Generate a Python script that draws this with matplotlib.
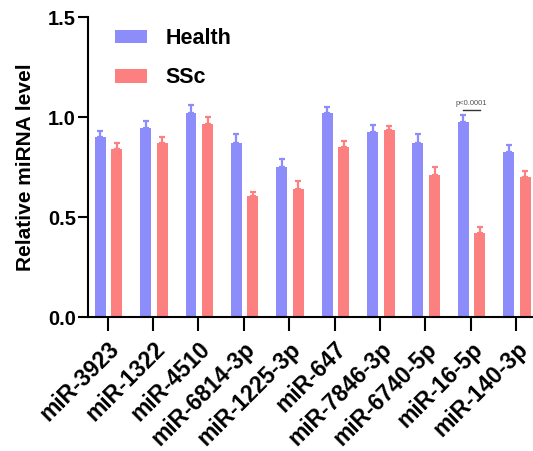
import matplotlib.pyplot as plt
import numpy as np

plt.rcParams["font.family"] = ["Liberation Sans", "DejaVu Sans"]
plt.rcParams["font.weight"] = "bold"

mirnas = ["miR-3923", "miR-1322", "miR-4510", "miR-6814-3p", "miR-1225-3p",
          "miR-647", "miR-7846-3p", "miR-6740-5p", "miR-16-5p", "miR-140-3p"]
health = [0.898, 0.945, 1.021, 0.870, 0.749, 1.018, 0.925, 0.870, 0.975, 0.824]
health_err = [0.032, 0.035, 0.040, 0.043, 0.042, 0.030, 0.037, 0.043, 0.037, 0.037]
ssc = [0.838, 0.870, 0.965, 0.604, 0.639, 0.850, 0.935, 0.712, 0.418, 0.699]
ssc_err = [0.032, 0.028, 0.035, 0.022, 0.043, 0.028, 0.020, 0.037, 0.030, 0.030]

health_color = "#8c8cfb"
ssc_color = "#fc8080"

fig = plt.figure(figsize=(5.33, 4.51), dpi=100)
ax = fig.add_axes([0.1657, 0.2971, 0.8343, 0.6652])

x = np.arange(len(mirnas))
w = 0.24
ax.bar(x - 0.165, health, w, color=health_color, label="Health",
       yerr=[np.zeros(len(health)), health_err],
       error_kw=dict(ecolor=health_color, elinewidth=1.6, capsize=2.5, capthick=1.6))
ax.bar(x + 0.2, ssc, w, color=ssc_color, label="SSc",
       yerr=[np.zeros(len(ssc)), ssc_err],
       error_kw=dict(ecolor=ssc_color, elinewidth=1.6, capsize=2.5, capthick=1.6))

ax.set_xlim(-0.427, 9.37)
ax.set_ylim(0, 1.5)
ax.set_yticks([0, 0.5, 1.0, 1.5])
ax.set_yticklabels(["0.0", "0.5", "1.0", "1.5"], fontsize=14.5, fontweight="bold")
ax.set_xticks(x)
ax.set_xticklabels(mirnas, rotation=45, ha="right", va="top",
                   rotation_mode="anchor", fontsize=16.5, fontweight="bold")
ax.set_ylabel("Relative miRNA level", fontsize=15, fontweight="bold", labelpad=9)

for side in ["top", "right"]:
    ax.spines[side].set_visible(False)
for side in ["left", "bottom"]:
    ax.spines[side].set_linewidth(1.5)
ax.tick_params(axis="x", length=10, width=1.5, pad=5)
ax.tick_params(axis="y", length=7, width=1.5, pad=2)

# significance mark on miR-16-5p
i = mirnas.index("miR-16-5p")
ax.plot([i - 0.165, i + 0.2], [1.037, 1.037], color="#333333", lw=1)
ax.text(i + 0.0175, 1.05, "p<0.0001", ha="center", va="bottom",
        fontsize=5.5, fontweight="normal", color="#555555")

ax.legend(loc="upper left", bbox_to_anchor=(115 / 533, 1 - 28 / 451),
          bbox_transform=fig.transFigure, frameon=False, fontsize=15.5,
          handlelength=1.5, handleheight=0.6, handletextpad=0.85,
          labelspacing=0.85, borderpad=0, borderaxespad=0)

fig.savefig("out.png", dpi=100)
